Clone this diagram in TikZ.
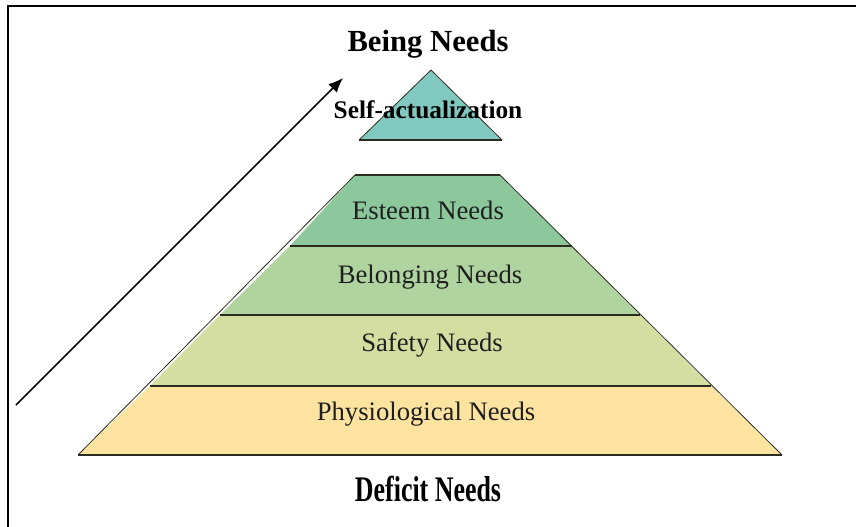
\documentclass[tikz,border=0pt]{standalone}
\usepackage{fontspec}
\setmainfont{Liberation Serif}
\usetikzlibrary{arrows.meta}

\definecolor{topteal}{HTML}{80C8C0}
\definecolor{esteemgreen}{HTML}{8CC89C}
\definecolor{belonggreen}{HTML}{B0D4A0}
\definecolor{safetygreen}{HTML}{D4DEA0}
\definecolor{physioyellow}{HTML}{FCE4A0}
\definecolor{edgedark}{HTML}{2C2C20}

\tikzset{
  tierside/.style={draw=edgedark, line width=0.6pt},
  tierbase/.style={draw=edgedark, line width=1.6pt},
  tiertext/.style={font=\fontsize{20}{24}\selectfont, text=black!88},
  headtext/.style={font=\fontsize{23}{27}\selectfont\bfseries}
}

\begin{document}
\begin{tikzpicture}[x=0.75pt,y=-0.75pt]
		\useasboundingbox (0,0) rectangle (856,527);
		
		% frame
		\draw[line width=1.8pt] (8,527) -- (8,6) -- (856,6);
		
		% tiers
		\fill[physioyellow] (150,386) -- (711,386) -- (782,455) -- (78,455) -- cycle;
		\fill[safetygreen] (220,315) -- (640,315) -- (711,386) -- (150,386) -- cycle;
		\fill[belonggreen] (290,246) -- (572,246) -- (640,315) -- (220,315) -- cycle;
		\fill[esteemgreen] (355,175) -- (500,175) -- (572,246) -- (290,246) -- cycle;
		\fill[topteal] (431,70) -- (502,140) -- (359,140) -- cycle;
		
		\draw[tierside] (355,175) -- (78,455);
		\draw[tierside] (500,175) -- (782,455);
		\draw[tierside] (359,140) -- (431,70) -- (502,140);
		
		\draw[tierbase] (359,140) -- (502,140);
		\draw[tierbase] (355,175) -- (500,175);
		\draw[tierbase] (290,246) -- (572,246);
		\draw[tierbase] (220,315) -- (640,315);
		\draw[tierbase] (150,386) -- (711,386);
		\draw[tierbase] (78,455) -- (782,455);
		
		% labels
		\node[headtext] (being) at (428,44) {Being Needs};
		\node[font=\fontsize{19}{23}\selectfont\bfseries] (selfact) at (428,110) {Self-actualization};
		\node[tiertext] (esteem) at (428,210) {Esteem Needs};
		\node[tiertext] (belonging) at (430,277) {Belonging Needs};
		\node[tiertext] (safety) at (432,345) {Safety Needs};
		\node[tiertext] (physio) at (426,414) {Physiological Needs};
		\node[font=\fontsize{27}{31}\selectfont\bfseries, xscale=0.72] (deficit) at (428,489) {Deficit Needs};
		
		% arrow
		\coordinate (arrowfrom) at (16,405);
		\coordinate (arrowto) at (343,78);
		\draw[line width=1.1pt, -{Latex[length=11pt,width=9pt]}] (arrowfrom) -- (arrowto);
\end{tikzpicture}
\end{document}
